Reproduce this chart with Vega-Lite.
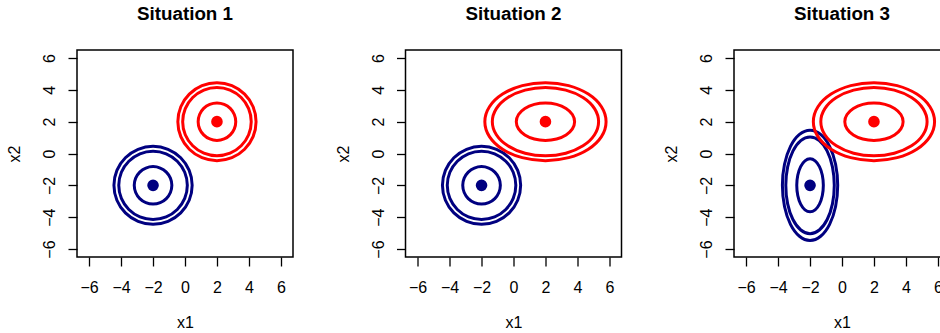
{
  "$schema": "https://vega.github.io/schema/vega-lite/v6.json",
  "background": "white",
  "padding": {"left": 5, "top": 3, "right": 0, "bottom": 0},
  "config": {
    "font": "Liberation Sans",
    "view": {"stroke": "black", "strokeWidth": 1.5},
    "axis": {
      "domain": false,
      "grid": false,
      "values": [-6, -4, -2, 0, 2, 4, 6],
      "tickColor": "black",
      "tickWidth": 1.3,
      "tickSize": 9,
      "labelFont": "Liberation Sans",
      "labelFontSize": 16,
      "labelColor": "black",
      "titleFont": "Liberation Sans",
      "titleFontSize": 16,
      "titleFontWeight": "normal",
      "titleColor": "black"
    },
    "axisX": {
      "labelBaseline": "alphabetic",
      "labelPadding": 26,
      "titleBaseline": "alphabetic",
      "titleAlign": "center",
      "titleX": 108,
      "titleY": 70
    },
    "axisY": {
      "labelAngle": 270,
      "labelAlign": "center",
      "labelBaseline": "alphabetic",
      "labelPadding": 13.3,
      "titleAngle": 270,
      "titleAlign": "center",
      "titleBaseline": "alphabetic",
      "titleX": -57.5,
      "titleY": 103.5
    },
    "title": {
      "font": "Liberation Sans",
      "fontSize": 18.8,
      "fontWeight": "bold",
      "color": "black",
      "baseline": "alphabetic",
      "anchor": "middle",
      "frame": "group",
      "offset": 26.7
    }
  },
  "datasets": {
    "centers": [
      {"cls": "A", "x1": -2, "x2": -2},
      {"cls": "B", "x1": 2, "x2": 2}
    ],
    "blueRound": [
      {"lev": 1, "k": 0, "x1": -0.823, "x2": -2},
      {"lev": 1, "k": 1, "x1": -0.913, "x2": -1.55},
      {"lev": 1, "k": 2, "x1": -1.168, "x2": -1.168},
      {"lev": 1, "k": 3, "x1": -1.55, "x2": -0.913},
      {"lev": 1, "k": 4, "x1": -2, "x2": -0.823},
      {"lev": 1, "k": 5, "x1": -2.45, "x2": -0.913},
      {"lev": 1, "k": 6, "x1": -2.832, "x2": -1.168},
      {"lev": 1, "k": 7, "x1": -3.087, "x2": -1.55},
      {"lev": 1, "k": 8, "x1": -3.177, "x2": -2},
      {"lev": 1, "k": 9, "x1": -3.087, "x2": -2.45},
      {"lev": 1, "k": 10, "x1": -2.832, "x2": -2.832},
      {"lev": 1, "k": 11, "x1": -2.45, "x2": -3.087},
      {"lev": 1, "k": 12, "x1": -2, "x2": -3.177},
      {"lev": 1, "k": 13, "x1": -1.55, "x2": -3.087},
      {"lev": 1, "k": 14, "x1": -1.168, "x2": -2.832},
      {"lev": 1, "k": 15, "x1": -0.913, "x2": -2.45},
      {"lev": 2, "k": 0, "x1": 0.146, "x2": -2},
      {"lev": 2, "k": 1, "x1": -0.017, "x2": -1.179},
      {"lev": 2, "k": 2, "x1": -0.483, "x2": -0.483},
      {"lev": 2, "k": 3, "x1": -1.179, "x2": -0.017},
      {"lev": 2, "k": 4, "x1": -2, "x2": 0.146},
      {"lev": 2, "k": 5, "x1": -2.821, "x2": -0.017},
      {"lev": 2, "k": 6, "x1": -3.517, "x2": -0.483},
      {"lev": 2, "k": 7, "x1": -3.983, "x2": -1.179},
      {"lev": 2, "k": 8, "x1": -4.146, "x2": -2},
      {"lev": 2, "k": 9, "x1": -3.983, "x2": -2.821},
      {"lev": 2, "k": 10, "x1": -3.517, "x2": -3.517},
      {"lev": 2, "k": 11, "x1": -2.821, "x2": -3.983},
      {"lev": 2, "k": 12, "x1": -2, "x2": -4.146},
      {"lev": 2, "k": 13, "x1": -1.179, "x2": -3.983},
      {"lev": 2, "k": 14, "x1": -0.483, "x2": -3.517},
      {"lev": 2, "k": 15, "x1": -0.017, "x2": -2.821},
      {"lev": 3, "k": 0, "x1": 0.448, "x2": -2},
      {"lev": 3, "k": 1, "x1": 0.262, "x2": -1.063},
      {"lev": 3, "k": 2, "x1": -0.269, "x2": -0.269},
      {"lev": 3, "k": 3, "x1": -1.063, "x2": 0.262},
      {"lev": 3, "k": 4, "x1": -2, "x2": 0.448},
      {"lev": 3, "k": 5, "x1": -2.937, "x2": 0.262},
      {"lev": 3, "k": 6, "x1": -3.731, "x2": -0.269},
      {"lev": 3, "k": 7, "x1": -4.262, "x2": -1.063},
      {"lev": 3, "k": 8, "x1": -4.448, "x2": -2},
      {"lev": 3, "k": 9, "x1": -4.262, "x2": -2.937},
      {"lev": 3, "k": 10, "x1": -3.731, "x2": -3.731},
      {"lev": 3, "k": 11, "x1": -2.937, "x2": -4.262},
      {"lev": 3, "k": 12, "x1": -2, "x2": -4.448},
      {"lev": 3, "k": 13, "x1": -1.063, "x2": -4.262},
      {"lev": 3, "k": 14, "x1": -0.269, "x2": -3.731},
      {"lev": 3, "k": 15, "x1": 0.262, "x2": -2.937}
    ],
    "redRound": [
      {"lev": 1, "k": 0, "x1": 3.177, "x2": 2},
      {"lev": 1, "k": 1, "x1": 3.087, "x2": 2.45},
      {"lev": 1, "k": 2, "x1": 2.832, "x2": 2.832},
      {"lev": 1, "k": 3, "x1": 2.45, "x2": 3.087},
      {"lev": 1, "k": 4, "x1": 2, "x2": 3.177},
      {"lev": 1, "k": 5, "x1": 1.55, "x2": 3.087},
      {"lev": 1, "k": 6, "x1": 1.168, "x2": 2.832},
      {"lev": 1, "k": 7, "x1": 0.913, "x2": 2.45},
      {"lev": 1, "k": 8, "x1": 0.823, "x2": 2},
      {"lev": 1, "k": 9, "x1": 0.913, "x2": 1.55},
      {"lev": 1, "k": 10, "x1": 1.168, "x2": 1.168},
      {"lev": 1, "k": 11, "x1": 1.55, "x2": 0.913},
      {"lev": 1, "k": 12, "x1": 2, "x2": 0.823},
      {"lev": 1, "k": 13, "x1": 2.45, "x2": 0.913},
      {"lev": 1, "k": 14, "x1": 2.832, "x2": 1.168},
      {"lev": 1, "k": 15, "x1": 3.087, "x2": 1.55},
      {"lev": 2, "k": 0, "x1": 4.146, "x2": 2},
      {"lev": 2, "k": 1, "x1": 3.983, "x2": 2.821},
      {"lev": 2, "k": 2, "x1": 3.517, "x2": 3.517},
      {"lev": 2, "k": 3, "x1": 2.821, "x2": 3.983},
      {"lev": 2, "k": 4, "x1": 2, "x2": 4.146},
      {"lev": 2, "k": 5, "x1": 1.179, "x2": 3.983},
      {"lev": 2, "k": 6, "x1": 0.483, "x2": 3.517},
      {"lev": 2, "k": 7, "x1": 0.017, "x2": 2.821},
      {"lev": 2, "k": 8, "x1": -0.146, "x2": 2},
      {"lev": 2, "k": 9, "x1": 0.017, "x2": 1.179},
      {"lev": 2, "k": 10, "x1": 0.483, "x2": 0.483},
      {"lev": 2, "k": 11, "x1": 1.179, "x2": 0.017},
      {"lev": 2, "k": 12, "x1": 2, "x2": -0.146},
      {"lev": 2, "k": 13, "x1": 2.821, "x2": 0.017},
      {"lev": 2, "k": 14, "x1": 3.517, "x2": 0.483},
      {"lev": 2, "k": 15, "x1": 3.983, "x2": 1.179},
      {"lev": 3, "k": 0, "x1": 4.448, "x2": 2},
      {"lev": 3, "k": 1, "x1": 4.262, "x2": 2.937},
      {"lev": 3, "k": 2, "x1": 3.731, "x2": 3.731},
      {"lev": 3, "k": 3, "x1": 2.937, "x2": 4.262},
      {"lev": 3, "k": 4, "x1": 2, "x2": 4.448},
      {"lev": 3, "k": 5, "x1": 1.063, "x2": 4.262},
      {"lev": 3, "k": 6, "x1": 0.269, "x2": 3.731},
      {"lev": 3, "k": 7, "x1": -0.262, "x2": 2.937},
      {"lev": 3, "k": 8, "x1": -0.448, "x2": 2},
      {"lev": 3, "k": 9, "x1": -0.262, "x2": 1.063},
      {"lev": 3, "k": 10, "x1": 0.269, "x2": 0.269},
      {"lev": 3, "k": 11, "x1": 1.063, "x2": -0.262},
      {"lev": 3, "k": 12, "x1": 2, "x2": -0.448},
      {"lev": 3, "k": 13, "x1": 2.937, "x2": -0.262},
      {"lev": 3, "k": 14, "x1": 3.731, "x2": 0.269},
      {"lev": 3, "k": 15, "x1": 4.262, "x2": 1.063}
    ],
    "redWide": [
      {"lev": 1, "k": 0, "x1": 3.825, "x2": 2},
      {"lev": 1, "k": 1, "x1": 3.686, "x2": 2.45},
      {"lev": 1, "k": 2, "x1": 3.29, "x2": 2.832},
      {"lev": 1, "k": 3, "x1": 2.698, "x2": 3.087},
      {"lev": 1, "k": 4, "x1": 2, "x2": 3.177},
      {"lev": 1, "k": 5, "x1": 1.302, "x2": 3.087},
      {"lev": 1, "k": 6, "x1": 0.71, "x2": 2.832},
      {"lev": 1, "k": 7, "x1": 0.314, "x2": 2.45},
      {"lev": 1, "k": 8, "x1": 0.175, "x2": 2},
      {"lev": 1, "k": 9, "x1": 0.314, "x2": 1.55},
      {"lev": 1, "k": 10, "x1": 0.71, "x2": 1.168},
      {"lev": 1, "k": 11, "x1": 1.302, "x2": 0.913},
      {"lev": 1, "k": 12, "x1": 2, "x2": 0.823},
      {"lev": 1, "k": 13, "x1": 2.698, "x2": 0.913},
      {"lev": 1, "k": 14, "x1": 3.29, "x2": 1.168},
      {"lev": 1, "k": 15, "x1": 3.686, "x2": 1.55},
      {"lev": 2, "k": 0, "x1": 5.326, "x2": 2},
      {"lev": 2, "k": 1, "x1": 5.073, "x2": 2.821},
      {"lev": 2, "k": 2, "x1": 4.352, "x2": 3.517},
      {"lev": 2, "k": 3, "x1": 3.273, "x2": 3.983},
      {"lev": 2, "k": 4, "x1": 2, "x2": 4.146},
      {"lev": 2, "k": 5, "x1": 0.727, "x2": 3.983},
      {"lev": 2, "k": 6, "x1": -0.352, "x2": 3.517},
      {"lev": 2, "k": 7, "x1": -1.073, "x2": 2.821},
      {"lev": 2, "k": 8, "x1": -1.326, "x2": 2},
      {"lev": 2, "k": 9, "x1": -1.073, "x2": 1.179},
      {"lev": 2, "k": 10, "x1": -0.352, "x2": 0.483},
      {"lev": 2, "k": 11, "x1": 0.727, "x2": 0.017},
      {"lev": 2, "k": 12, "x1": 2, "x2": -0.146},
      {"lev": 2, "k": 13, "x1": 3.273, "x2": 0.017},
      {"lev": 2, "k": 14, "x1": 4.352, "x2": 0.483},
      {"lev": 2, "k": 15, "x1": 5.073, "x2": 1.179},
      {"lev": 3, "k": 0, "x1": 5.794, "x2": 2},
      {"lev": 3, "k": 1, "x1": 5.505, "x2": 2.937},
      {"lev": 3, "k": 2, "x1": 4.683, "x2": 3.731},
      {"lev": 3, "k": 3, "x1": 3.452, "x2": 4.262},
      {"lev": 3, "k": 4, "x1": 2, "x2": 4.448},
      {"lev": 3, "k": 5, "x1": 0.548, "x2": 4.262},
      {"lev": 3, "k": 6, "x1": -0.683, "x2": 3.731},
      {"lev": 3, "k": 7, "x1": -1.505, "x2": 2.937},
      {"lev": 3, "k": 8, "x1": -1.794, "x2": 2},
      {"lev": 3, "k": 9, "x1": -1.505, "x2": 1.063},
      {"lev": 3, "k": 10, "x1": -0.683, "x2": 0.269},
      {"lev": 3, "k": 11, "x1": 0.548, "x2": -0.262},
      {"lev": 3, "k": 12, "x1": 2, "x2": -0.448},
      {"lev": 3, "k": 13, "x1": 3.452, "x2": -0.262},
      {"lev": 3, "k": 14, "x1": 4.683, "x2": 0.269},
      {"lev": 3, "k": 15, "x1": 5.505, "x2": 1.063}
    ],
    "blueTall": [
      {"lev": 1, "k": 0, "x1": -1.168, "x2": -2},
      {"lev": 1, "k": 1, "x1": -1.231, "x2": -1.363},
      {"lev": 1, "k": 2, "x1": -1.412, "x2": -0.823},
      {"lev": 1, "k": 3, "x1": -1.682, "x2": -0.463},
      {"lev": 1, "k": 4, "x1": -2, "x2": -0.336},
      {"lev": 1, "k": 5, "x1": -2.318, "x2": -0.463},
      {"lev": 1, "k": 6, "x1": -2.588, "x2": -0.823},
      {"lev": 1, "k": 7, "x1": -2.769, "x2": -1.363},
      {"lev": 1, "k": 8, "x1": -2.832, "x2": -2},
      {"lev": 1, "k": 9, "x1": -2.769, "x2": -2.637},
      {"lev": 1, "k": 10, "x1": -2.588, "x2": -3.177},
      {"lev": 1, "k": 11, "x1": -2.318, "x2": -3.537},
      {"lev": 1, "k": 12, "x1": -2, "x2": -3.664},
      {"lev": 1, "k": 13, "x1": -1.682, "x2": -3.537},
      {"lev": 1, "k": 14, "x1": -1.412, "x2": -3.177},
      {"lev": 1, "k": 15, "x1": -1.231, "x2": -2.637},
      {"lev": 2, "k": 0, "x1": -0.483, "x2": -2},
      {"lev": 2, "k": 1, "x1": -0.598, "x2": -0.839},
      {"lev": 2, "k": 2, "x1": -0.927, "x2": 0.146},
      {"lev": 2, "k": 3, "x1": -1.419, "x2": 0.803},
      {"lev": 2, "k": 4, "x1": -2, "x2": 1.034},
      {"lev": 2, "k": 5, "x1": -2.581, "x2": 0.803},
      {"lev": 2, "k": 6, "x1": -3.073, "x2": 0.146},
      {"lev": 2, "k": 7, "x1": -3.402, "x2": -0.839},
      {"lev": 2, "k": 8, "x1": -3.517, "x2": -2},
      {"lev": 2, "k": 9, "x1": -3.402, "x2": -3.161},
      {"lev": 2, "k": 10, "x1": -3.073, "x2": -4.146},
      {"lev": 2, "k": 11, "x1": -2.581, "x2": -4.803},
      {"lev": 2, "k": 12, "x1": -2, "x2": -5.034},
      {"lev": 2, "k": 13, "x1": -1.419, "x2": -4.803},
      {"lev": 2, "k": 14, "x1": -0.927, "x2": -4.146},
      {"lev": 2, "k": 15, "x1": -0.598, "x2": -3.161},
      {"lev": 3, "k": 0, "x1": -0.269, "x2": -2},
      {"lev": 3, "k": 1, "x1": -0.401, "x2": -0.675},
      {"lev": 3, "k": 2, "x1": -0.776, "x2": 0.448},
      {"lev": 3, "k": 3, "x1": -1.338, "x2": 1.198},
      {"lev": 3, "k": 4, "x1": -2, "x2": 1.461},
      {"lev": 3, "k": 5, "x1": -2.662, "x2": 1.198},
      {"lev": 3, "k": 6, "x1": -3.224, "x2": 0.448},
      {"lev": 3, "k": 7, "x1": -3.599, "x2": -0.675},
      {"lev": 3, "k": 8, "x1": -3.731, "x2": -2},
      {"lev": 3, "k": 9, "x1": -3.599, "x2": -3.325},
      {"lev": 3, "k": 10, "x1": -3.224, "x2": -4.448},
      {"lev": 3, "k": 11, "x1": -2.662, "x2": -5.198},
      {"lev": 3, "k": 12, "x1": -2, "x2": -5.461},
      {"lev": 3, "k": 13, "x1": -1.338, "x2": -5.198},
      {"lev": 3, "k": 14, "x1": -0.776, "x2": -4.448},
      {"lev": 3, "k": 15, "x1": -0.401, "x2": -3.325}
    ]
  },
  "bounds": "flush",
  "spacing": 112.5,
  "hconcat": [
    {
      "title": "Situation 1",
      "width": 216,
      "height": 207,
      "encoding": {
        "x": {"field": "x1", "type": "quantitative", "title": "x1", "scale": {"domain": [-6.76, 6.76], "nice": false, "zero": false}},
        "y": {"field": "x2", "type": "quantitative", "title": "x2", "scale": {"domain": [-6.5, 6.5], "nice": false, "zero": false}}
      },
      "layer": [
        {"data": {"name": "blueRound"}, "mark": {"type": "line", "color": "#000080", "strokeWidth": 3, "interpolate": "cardinal-closed"}, "encoding": {"detail": {"field": "lev", "type": "nominal"}, "order": {"field": "k", "type": "quantitative"}}},
        {"data": {"name": "redRound"}, "mark": {"type": "line", "color": "#ff0000", "strokeWidth": 3, "interpolate": "cardinal-closed"}, "encoding": {"detail": {"field": "lev", "type": "nominal"}, "order": {"field": "k", "type": "quantitative"}}},
        {"data": {"name": "centers"}, "mark": {"type": "point", "filled": true, "size": 135, "opacity": 1, "shape": "circle"}, "encoding": {"color": {"field": "cls", "type": "nominal", "scale": {"domain": ["A", "B"], "range": ["#000080", "#ff0000"]}, "legend": null}}}
      ]
    },
    {
      "title": "Situation 2",
      "width": 216,
      "height": 207,
      "encoding": {
        "x": {"field": "x1", "type": "quantitative", "title": "x1", "scale": {"domain": [-6.76, 6.76], "nice": false, "zero": false}},
        "y": {"field": "x2", "type": "quantitative", "title": "x2", "scale": {"domain": [-6.5, 6.5], "nice": false, "zero": false}}
      },
      "layer": [
        {"data": {"name": "blueRound"}, "mark": {"type": "line", "color": "#000080", "strokeWidth": 3, "interpolate": "cardinal-closed"}, "encoding": {"detail": {"field": "lev", "type": "nominal"}, "order": {"field": "k", "type": "quantitative"}}},
        {"data": {"name": "redWide"}, "mark": {"type": "line", "color": "#ff0000", "strokeWidth": 3, "interpolate": "cardinal-closed"}, "encoding": {"detail": {"field": "lev", "type": "nominal"}, "order": {"field": "k", "type": "quantitative"}}},
        {"data": {"name": "centers"}, "mark": {"type": "point", "filled": true, "size": 135, "opacity": 1, "shape": "circle"}, "encoding": {"color": {"field": "cls", "type": "nominal", "scale": {"domain": ["A", "B"], "range": ["#000080", "#ff0000"]}, "legend": null}}}
      ]
    },
    {
      "title": "Situation 3",
      "width": 216,
      "height": 207,
      "encoding": {
        "x": {"field": "x1", "type": "quantitative", "title": "x1", "scale": {"domain": [-6.76, 6.76], "nice": false, "zero": false}},
        "y": {"field": "x2", "type": "quantitative", "title": "x2", "scale": {"domain": [-6.5, 6.5], "nice": false, "zero": false}}
      },
      "layer": [
        {"data": {"name": "blueTall"}, "mark": {"type": "line", "color": "#000080", "strokeWidth": 3, "interpolate": "cardinal-closed"}, "encoding": {"detail": {"field": "lev", "type": "nominal"}, "order": {"field": "k", "type": "quantitative"}}},
        {"data": {"name": "redWide"}, "mark": {"type": "line", "color": "#ff0000", "strokeWidth": 3, "interpolate": "cardinal-closed"}, "encoding": {"detail": {"field": "lev", "type": "nominal"}, "order": {"field": "k", "type": "quantitative"}}},
        {"data": {"name": "centers"}, "mark": {"type": "point", "filled": true, "size": 135, "opacity": 1, "shape": "circle"}, "encoding": {"color": {"field": "cls", "type": "nominal", "scale": {"domain": ["A", "B"], "range": ["#000080", "#ff0000"]}, "legend": null}}}
      ]
    }
  ]
}
